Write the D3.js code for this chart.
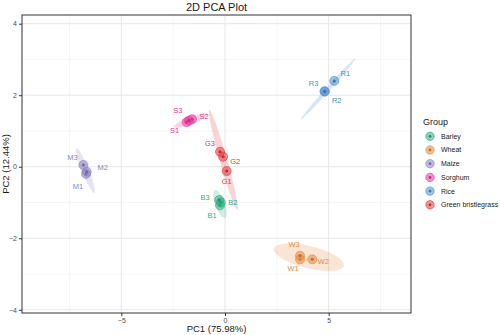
<!DOCTYPE html>
<html>
<head>
<meta charset="utf-8">
<script src="https://cdn.jsdelivr.net/npm/d3@7"></script>
<style>
  body { margin: 0; background: #fff; }
  svg { display: block; font-family: "Liberation Sans", Arial, sans-serif; }
</style>
</head>
<body>
<div id="chart"></div>
<script>
// groups and their colours
const groups = ["Barley", "Wheat", "Maize", "Sorghum", "Rice", "Green bristlegrass"];
const groupColors = ["#2fae83", "#e8883a", "#8b82c6", "#e8389a", "#4a8fd0", "#e8383d"];

// PCA scores per sample
const sampleNames = ["B1", "B2", "B3", "W1", "W2", "W3", "M1", "M2", "M3", "S1", "S2", "S3", "R1", "R2", "R3", "G1", "G2", "G3"];
const sampleGroup = ["Barley", "Barley", "Barley", "Wheat", "Wheat", "Wheat", "Maize", "Maize", "Maize",
  "Sorghum", "Sorghum", "Sorghum", "Rice", "Rice", "Rice", "Green bristlegrass", "Green bristlegrass", "Green bristlegrass"];
const pc1 = [-0.24, -0.20, -0.28, 3.62, 4.21, 3.62, -6.70, -6.67, -6.83, -1.85, -1.59, -1.74, 5.27, 4.81, 4.80, 0.08, -0.09, -0.24];
const pc2 = [-1.08, -1.00, -0.93, -2.59, -2.59, -2.49, -0.20, -0.14, 0.05, 1.25, 1.33, 1.29, 2.40, 2.10, 2.11, -0.12, 0.28, 0.42];

// 95% ellipses: centre, one end of the major axis, minor/major ratio
const ellCx = [-0.24, 4.05, -6.73, -1.66, 4.98, -0.08];
const ellCy = [-1.04, -2.53, -0.11, 1.29, 2.18, 0.19];
const ellTipX = [-0.48, 2.37, -7.16, -2.46, 3.67, -0.76];
const ellTipY = [-0.65, -2.29, 0.51, 1.11, 1.33, 1.59];
const ellRatio = [0.32, 0.31, 0.15, 0.21, 0.05, 0.07];

const xTicks = [-5, 0, 5];
const yTicks = [-4, -2, 0, 2, 4];

// label nudges (px) for each sample
const labelNudge = {
  B1: [-8, 10], B2: [12, 0], B3: [-14, -3],
  W1: [-7, 9], W2: [11, 2], W3: [-6, -11],
  M1: [-8, 12], M2: [16, -4], M3: [-11, -8],
  S1: [-12, 8], S2: [12, -3], S3: [-11, -10],
  R1: [11, -8], R2: [12, 9], R3: [-11, -8],
  G1: [0, 10], G2: [12, 5], G3: [-10, -8]
};

const W = 500, H = 335;
const panel = { left: 22, right: 411, top: 15, bottom: 313 };

const svg = d3.select("#chart").append("svg")
  .attr("width", W).attr("height", H);

const x = d3.scaleLinear().domain([-9.79, 8.97]).range([panel.left, panel.right]);
const y = d3.scaleLinear().domain([-4.09, 4.243]).range([panel.bottom, panel.top]);
const color = d3.scaleOrdinal().domain(groups).range(groupColors);

const g = svg.append("g");

// grid
const minorX = [-7.5, -2.5, 2.5, 7.5];
const minorY = [-3, -1, 1, 3];
g.selectAll(".gminx").data(minorX).join("line")
  .attr("x1", d => x(d)).attr("x2", d => x(d))
  .attr("y1", panel.top).attr("y2", panel.bottom)
  .attr("stroke", "#f0f0f0").attr("stroke-width", 0.6);
g.selectAll(".gminy").data(minorY).join("line")
  .attr("y1", d => y(d)).attr("y2", d => y(d))
  .attr("x1", panel.left).attr("x2", panel.right)
  .attr("stroke", "#f0f0f0").attr("stroke-width", 0.6);
g.selectAll(".gx").data(xTicks).join("line")
  .attr("x1", d => x(d)).attr("x2", d => x(d))
  .attr("y1", panel.top).attr("y2", panel.bottom)
  .attr("stroke", "#e6e6e6").attr("stroke-width", 1);
g.selectAll(".gy").data(yTicks).join("line")
  .attr("y1", d => y(d)).attr("y2", d => y(d))
  .attr("x1", panel.left).attr("x2", panel.right)
  .attr("stroke", "#e6e6e6").attr("stroke-width", 1);

// ellipses, built in pixel space from data-space centre and tip
function ellipsePath(i) {
  const cx = x(ellCx[i]), cy = y(ellCy[i]);
  const ax = x(ellTipX[i]) - cx, ay = y(ellTipY[i]) - cy;
  const bx = -ay * ellRatio[i], by = ax * ellRatio[i];
  const pts = d3.range(0, 2 * Math.PI, Math.PI / 60).map(t =>
    [cx + ax * Math.cos(t) + bx * Math.sin(t), cy + ay * Math.cos(t) + by * Math.sin(t)]);
  return d3.line().curve(d3.curveLinearClosed)(pts);
}
g.selectAll(".ell").data(groups).join("path")
  .attr("d", (d, i) => ellipsePath(i))
  .attr("fill", d => color(d)).attr("fill-opacity", 0.22)
  .attr("stroke", "none");

// points
const samples = sampleNames.map((s, i) => ({ name: s, group: sampleGroup[i], x: pc1[i], y: pc2[i] }));
const pts = g.selectAll(".pt").data(samples).join("g")
  .attr("transform", d => `translate(${x(d.x)},${y(d.y)})`);
pts.append("circle").attr("r", 4.5)
  .attr("fill", d => color(d.group)).attr("fill-opacity", 0.55)
  .attr("stroke", d => color(d.group)).attr("stroke-opacity", 0.8).attr("stroke-width", 0.8);
pts.append("circle").attr("r", 1.5)
  .attr("fill", d => d3.color(color(d.group)).darker(0.6));

// labels
g.selectAll(".lab").data(samples).join("text")
  .attr("x", d => x(d.x) + labelNudge[d.name][0])
  .attr("y", d => y(d.y) + labelNudge[d.name][1])
  .attr("dy", "0.35em")
  .attr("text-anchor", "middle")
  .attr("font-size", 7.5)
  .attr("fill", d => color(d.group))
  .text(d => d.name);

// panel border
svg.append("rect")
  .attr("x", panel.left).attr("y", panel.top)
  .attr("width", panel.right - panel.left).attr("height", panel.bottom - panel.top)
  .attr("fill", "none").attr("stroke", "#333").attr("stroke-width", 1);

// axes
const xAxis = svg.append("g").attr("transform", `translate(0,${panel.bottom})`)
  .call(d3.axisBottom(x).tickValues(xTicks).tickSize(3).tickPadding(2).tickFormat(d3.format("d")));
const yAxis = svg.append("g").attr("transform", `translate(${panel.left},0)`)
  .call(d3.axisLeft(y).tickValues(yTicks).tickSize(3).tickPadding(2).tickFormat(d3.format("d")));
[xAxis, yAxis].forEach(a => {
  a.select(".domain").remove();
  a.selectAll(".tick line").attr("stroke", "#333");
  a.selectAll(".tick text").attr("fill", "#4d4d4d").attr("font-size", 7)
    .attr("font-family", "Liberation Sans, Arial, sans-serif");
});

// titles
svg.append("text").attr("x", (panel.left + panel.right) / 2).attr("y", 11)
  .attr("text-anchor", "middle").attr("font-size", 11).attr("fill", "#1a1a1a")
  .text("2D PCA Plot");
svg.append("text").attr("x", (panel.left + panel.right) / 2).attr("y", 332)
  .attr("text-anchor", "middle").attr("font-size", 9.5).attr("fill", "#1a1a1a")
  .text("PC1 (75.98%)");
svg.append("text")
  .attr("transform", `translate(9,${(panel.top + panel.bottom) / 2}) rotate(-90)`)
  .attr("text-anchor", "middle").attr("font-size", 9.5).attr("fill", "#1a1a1a")
  .text("PC2 (12.44%)");

// legend
const leg = svg.append("g").attr("transform", "translate(423,0)");
leg.append("text").attr("x", 0).attr("y", 125).attr("font-size", 9).attr("fill", "#1a1a1a").text("Group");
const items = leg.selectAll(".li").data(groups).join("g")
  .attr("transform", (d, i) => `translate(7,${136.3 + i * 13.7})`);
items.append("circle").attr("r", 4.2)
  .attr("fill", d => color(d)).attr("fill-opacity", 0.55)
  .attr("stroke", d => color(d)).attr("stroke-opacity", 0.8).attr("stroke-width", 0.8);
items.append("circle").attr("r", 1.4).attr("fill", d => d3.color(color(d)).darker(0.6));
items.append("text").attr("x", 11).attr("dy", "0.35em")
  .attr("font-size", 7).attr("fill", "#1a1a1a").text(d => d);
</script>
</body>
</html>
